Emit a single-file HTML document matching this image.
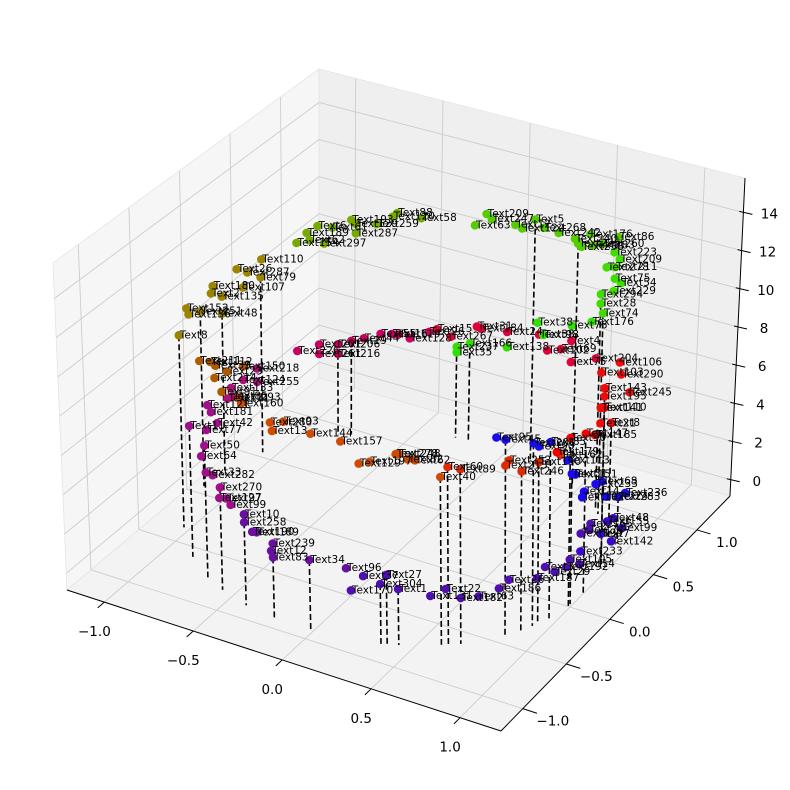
<!DOCTYPE html>
<html><head><meta charset="utf-8"><style>
html,body{margin:0;padding:0;background:#fff}
svg{display:block}
text{font-family:"DejaVu Sans","Liberation Sans",sans-serif}
</style></head><body>
<svg id="chart" width="790" height="790" viewBox="0 0 790 790" xmlns="http://www.w3.org/2000/svg">
<g id="panes"></g>
<g id="grid"></g>
<g id="axes"></g>
<g id="stems"></g>
<g id="points"></g>
<g id="labels"></g>
</svg>
<script>
const xTicks=[-1.0,-0.5,0.0,0.5,1.0];
const yTicks=[-1.0,-0.5,0.0,0.5,1.0];
const zTicks=[0,2,4,6,8,10,12,14];
const xLim=[-1.21,1.23], yLim=[-1.25,1.38], zLim=[-0.85,15.8];

const xs=[0.28,0.34,0.42,0.45,0.50,0.64,0.70,0.76,0.82,0.89,0.92,1.0,1.02,1.04,1.06,1.06,1.07,1.07,1.07,1.06,
-0.32,-0.32,-0.27,-0.24,-0.14,-0.15,-0.14,0.07,0.26,
-0.61,-0.64,-0.60,-0.54,-0.49,-0.50,-0.41,-0.44,-0.77,-0.59,-0.50,-0.57,-0.54,
-1.0,-1.03,-1.0,-1.05,-1.05,-1.06,
-1.07,-1.07,-1.07,-1.06,-1.07,-1.06,-1.03,
-0.34,-0.32,-0.14,-0.06,-0.13,0.09,0.24,0.33,0.38,0.50,0.51,0.55,0.58,0.68,
0.71,0.76,0.92,0.91,0.96,1.0,1.05,
1.06,1.07,1.06,1.04,
1.02,1.04,1.05,1.02,1.04,0.96,1.04,0.99,1.0,1.05,
0.50,0.72,0.32,0.42,0.26,0.50,0.06,-0.09,-0.25,-0.32,-0.11,
-0.89,-0.82,-0.82,-0.75,-0.75,-0.70,-0.65,-0.58,-0.53,-0.50,-0.45,-0.36,
-0.22,-0.22,-0.15,0.06,0.25,0.50,0.67,0.29,
0.78,0.75,0.76,0.94,0.94,0.82,0.94,0.96,0.94,0.97,
-0.13,-0.07,-0.04,0.10,0.14,0.22,0.28,0.38,0.50,0.53,0.56,0.66,0.75,0.91,0.64,
-0.51,-0.40,-0.53,-0.60,-0.68,-0.70,-0.77,-0.82,-0.86,-0.89,-0.85,-0.80,-0.68,
-0.99,-1.04,-1.02,-0.99,-1.07,-1.07,-1.06,-1.03,-1.04,-1.04,-1.07,-1.06,-0.95,
1.07,1.07,1.06,1.04,0.97,1.0,1.03,1.07,1.06,1.06,1.0,0.99,0.91,0.88,1.03,
0.95,0.98,1.02,1.03,1.04,1.07];
const ys=[-1.03,-1.01,-0.98,-0.97,-0.94,-0.86,-0.81,-0.76,-0.68,-0.59,-0.54,-0.38,-0.33,-0.26,-0.17,-0.13,-0.04,-0.03,0.06,0.10,
-1.02,-1.02,-1.03,-1.04,-1.06,-1.06,-1.06,-1.07,-1.04,
-0.88,-0.86,-0.89,-0.93,-0.95,-0.94,-0.99,-0.98,-0.74,-0.89,-0.94,-0.91,-0.93,
0.37,0.28,0.37,0.19,0.20,0.17,
-0.09,0.02,0.07,0.17,0.06,0.11,0.28,
-1.01,-1.02,-1.06,-1.07,-1.06,-1.07,-1.04,-1.02,-1.0,-0.95,-0.94,-0.92,-0.90,-0.82,
-0.80,-0.76,-0.54,-0.56,-0.48,-0.37,-0.23,
-0.14,0.01,0.13,-0.25,
0.31,0.27,0.21,0.31,0.23,0.51,0.55,0.53,0.53,0.21,
0.94,0.79,1.02,0.98,1.04,0.94,1.07,1.07,1.04,1.02,1.06,
0.59,0.69,0.69,0.76,0.76,0.81,0.85,0.90,0.93,0.94,0.97,1.01,
1.05,1.05,1.06,1.07,1.04,0.94,0.83,1.03,
0.74,0.77,0.75,0.55,0.55,0.69,0.54,0.56,0.54,0.56,
1.06,1.07,1.07,1.06,1.06,1.05,1.03,1.0,0.95,0.93,0.91,0.84,0.77,0.64,0.85,
0.94,0.99,0.93,0.89,0.82,0.81,0.74,0.68,0.64,0.59,0.65,0.71,0.82,
0.41,0.25,0.32,0.40,0.06,0.04,0.13,0.29,-0.26,-0.24,-0.07,0.13,-0.50,
-0.02,0.0,0.15,0.26,0.45,0.53,0.55,-0.10,-0.12,-0.17,-0.37,-0.41,-0.56,-0.60,-0.30,
0.51,0.52,0.54,0.28,0.38,-0.03];
const zs=[2.5,3.3,3.0,3.5,2.8,2.5,2.8,2.3,2.2,2.4,2.7,2.3,2.7,2.2,2.1,2.3,1.7,3.2,3.0,3.1,
4.6,4.2,3.9,4.0,3.8,3.4,3.1,3.6,3.6,
6.7,6.0,5.4,5.6,5.2,4.6,4.7,4.9,6.7,7.6,8.4,9.0,8.8,
4.5,4.2,3.8,4.1,3.6,3.6,
6.6,6.1,5.7,5.0,5.1,4.2,4.9,
10.4,10.2,9.9,10.2,9.5,10.0,9.9,8.95,9.1,9.6,9.6,9.35,9.3,8.4,
8.9,8.75,8.7,8.5,8.0,8.1,8.0,
8.5,8.1,7.5,8.2,
9.0,8.8,8.5,8.0,7.6,6.2,7.8,9.3,8.7,10.3,
6.3,7.7,6.1,6.6,6.7,7.4,6.2,6.0,5.3,5.6,6.1,
4.8,4.4,4.9,4.3,4.8,4.9,5.0,5.2,5.2,5.2,5.0,5.4,
4.8,4.5,5.1,5.4,7.3,8.2,9.3,6.8,
10.4,10.7,11.3,13.4,14.0,13.1,14.8,14.4,12.8,13.2,
11.4,12.1,11.9,12.0,11.9,12.6,12.4,12.5,12.7,12.6,12.6,13.2,13.8,15.1,13.7,
11.6,11.4,11.4,11.0,11.1,11.3,11.0,11.2,10.9,10.5,10.5,10.2,10.6,
10.1,10.1,9.7,9.2,9.9,9.6,9.1,9.0,10.1,9.7,9.1,8.2,9.9,
5.0,5.2,4.9,4.5,2.7,2.4,2.6,6.5,6.6,7.5,8.9,9.2,9.8,10.0,8.9,
1.1,1.3,0.8,1.7,0.9,2.3];
const colors=[].concat(
Array(20).fill('#5010b0'),
Array(9).fill('#6a10a0'),
Array(13).fill('#a0108a'),
Array(6).fill('#b0107a'),
Array(7).fill('#b05a00'),
Array(14).fill('#d04a00'),
Array(7).fill('#e02a00'),
Array(4).fill('#f00000'),
Array(10).fill('#f00a0a'),
Array(11).fill('#e0003a'),
Array(12).fill('#cc0060'),
Array(8).fill('#30e000'),
Array(10).fill('#40dd00'),
Array(15).fill('#55cc00'),
Array(13).fill('#77aa00'),
Array(13).fill('#9a8400'),
Array(15).fill('#1a0af0'),
Array(6).fill('#3a08d0'));
const names=['Text170','Text37','Text304','Text27','Text1','Text131','Text22','Text182','Text63','Text186','Text26','Text187','Text3','Text29','Text192','Text105','Text14','Text199','Text74','Text165',
'Text10','Text258','Text190','Text189','Text239','Text12','Text83','Text34','Text96',
'Text50','Text64','Text33','Text282','Text270','Text127','Text99','Text97','Text11','Text77','Text42','Text121','Text181',
'Text218','Text124','Text255','Text133','Text85','Text171',
'Text211','Text112','Text39','Text23','Text214','Text91','Text150',
'Text293','Text160','Text280','Text93','Text13','Text144','Text157','Text129','Text197','Text278','Text248','Text82','Text62','Text40',
'Text60','Text89','Text252','Text213','Text246','Text190','Text162',
'Text90','Text147','Text185','Text179',
'Text143','Text195','Text141','Text110','Text21','Text8','Text245','Text106','Text290','Text103',
'Text75','Text204','Text102','Text69','Text38','Text4','Text24','Text184','Text267','Text15','Text31',
'Text226','Text261','Text201','Text216','Text206','Text19','Text44','Text55','Text16','Text119','Text128','Text26',
'Text237','Text35','Text166','Text138','Text38','Text76','Text176','Text98',
'Text74','Text28','Text294','Text75','Text211','Text278','Text223','Text209','Text229','Text54',
'Text63','Text209','Text247','Text12','Text122','Text5','Text268','Text242','Text240','Text276','Text258','Text283','Text260','Text86','Text176',
'Text88','Text58','Text120','Text259','Text129','Text193','Text61','Text6','Text189','Text154','Text62','Text297','Text287',
'Text110','Text26','Text287','Text79','Text180','Text2','Text135','Text107','Text152','Text136','Text251','Text48','Text8',
'Text102','Text14','Text233','Text68','Text224','Text283','Text236','Text151','Text51','Text113','Text90','Text201','Text45','Text95','Text85',
'Text155','Text48','Text99','Text7','Text142','Text233'];
const stemIdx=[37,29,33,21,26,27,2,3,4,68,69,70,73,74,76,77,81,83,85,104,106,113,115,136,140,162,169,170,171,121,122,177,180,183,186,184];

const B={b000:[67,590],b100:[501,731],b010:[319,378],b110:[730,496],t000:[53,263],t100:[499,393],t010:[319,69],t110:[745,178]};
function lerp(a,b,t){return [a[0]+(b[0]-a[0])*t,a[1]+(b[1]-a[1])*t];}
function P(x,y,z){
 const u=(x-xLim[0])/(xLim[1]-xLim[0]), v=(y-yLim[0])/(yLim[1]-yLim[0]), w=(z-zLim[0])/(zLim[1]-zLim[0]);
 const bot=lerp(lerp(B.b000,B.b100,u),lerp(B.b010,B.b110,u),v);
 const top=lerp(lerp(B.t000,B.t100,u),lerp(B.t010,B.t110,u),v);
 return lerp(bot,top,w);
}
const NS='http://www.w3.org/2000/svg';
function mk(tag,parent,attrs){const e=document.createElementNS(NS,tag);for(const k in attrs)e.setAttribute(k,attrs[k]);parent.appendChild(e);return e;}
const pts=a=>a.map(p=>p[0].toFixed(1)+','+p[1].toFixed(1)).join(' ');
const [X0,X1]=xLim,[Y0,Y1]=yLim,[Z0,Z1]=zLim;
const gP=document.getElementById('panes'),gG=document.getElementById('grid'),gA=document.getElementById('axes'),
gS=document.getElementById('stems'),gD=document.getElementById('points'),gL=document.getElementById('labels');

let e;
e=mk('polygon',gP,{points:pts([P(X0,Y0,Z0),P(X0,Y1,Z0),P(X0,Y1,Z1),P(X0,Y0,Z1)]),fill:'#f6f6f6',stroke:'#e4e4e4','stroke-width':0.8});


e=mk('polygon',gP,{points:pts([P(X0,Y1,Z0),P(X1,Y1,Z0),P(X1,Y1,Z1),P(X0,Y1,Z1)]),fill:'#efefef',stroke:'#e4e4e4','stroke-width':0.8});


e=mk('polygon',gP,{points:pts([P(X0,Y0,Z0),P(X1,Y0,Z0),P(X1,Y1,Z0),P(X0,Y1,Z0)]),fill:'#f3f3f3',stroke:'#e4e4e4','stroke-width':0.8});



const gc='#cdcdcd';
function gl(a,b,name){const l=mk('line',gG,{x1:a[0],y1:a[1],x2:b[0],y2:b[1],stroke:gc,'stroke-width':0.9});
 
 }
xTicks.forEach(t=>{gl(P(t,Y0,Z0),P(t,Y1,Z0),'x-grid-floor');gl(P(t,Y1,Z0),P(t,Y1,Z1),'x-grid-back');});
yTicks.forEach(t=>{gl(P(X0,t,Z0),P(X1,t,Z0),'y-grid-floor');gl(P(X0,t,Z0),P(X0,t,Z1),'y-grid-left');});
zTicks.forEach(t=>{gl(P(X0,Y0,t),P(X0,Y1,t),'z-grid-left');gl(P(X0,Y1,t),P(X1,Y1,t),'z-grid-back');});

function al(a,b,name){const l=mk('line',gA,{x1:a[0],y1:a[1],x2:b[0],y2:b[1],stroke:'#000','stroke-width':1});
 
 }
al(P(X0,Y0,Z0),P(X1,Y0,Z0),'x-axis-line');
al(P(X1,Y0,Z0),P(X1,Y1,Z0),'y-axis-line');
al(P(X1,Y1,Z0),P(X1,Y1,Z1),'z-axis-line');
function tl(txt,p,name){const t=mk('text',gA,{x:p[0].toFixed(1),y:p[1].toFixed(1),'font-size':13.5,'text-anchor':'middle','dominant-baseline':'central',fill:'#000'});
 t.textContent=txt;
 
 }
const fmt=v=>(v<0?'\u2212':'')+Math.abs(v).toFixed(1);
xTicks.forEach(t=>{const a=P(t,Y0,Z0),b=P(t,Y0-0.07,Z0);al(a,[b[0],b[1]],'x-tick');tl(fmt(t),[a[0]-10,a[1]+30],'x-tick-label');});
yTicks.forEach(t=>{const a=P(X1,t,Z0),b=P(X1+0.08,t,Z0);al(a,b,'y-tick');tl(fmt(t),[a[0]+30,a[1]+13],'y-tick-label');});
zTicks.forEach(t=>{const a=P(X1,Y1,t);al([a[0]-4,a[1]-1],[a[0]+9,a[1]+2],'z-tick');tl(String(t),[a[0]+26,a[1]+2],'z-tick-label');});

stemIdx.forEach(i=>{
 const p=P(xs[i],ys[i],zs[i]), q=P(xs[i],ys[i],0);
 const s=mk('line',gS,{x1:p[0].toFixed(1),y1:p[1].toFixed(1),x2:q[0].toFixed(1),y2:q[1].toFixed(1),stroke:'#000','stroke-width':1.6,'stroke-dasharray':'6,3'});
 
 
});
for(let i=0;i<xs.length;i++){
 const p=P(xs[i],ys[i],zs[i]);
 const c=mk('circle',gD,{cx:p[0].toFixed(1),cy:p[1].toFixed(1),r:4.3,fill:colors[i]});
 
 
}
for(let i=0;i<xs.length;i++){
 const p=P(xs[i],ys[i],zs[i]);
 const t=mk('text',gL,{x:(p[0]+1).toFixed(1),y:(p[1]+3).toFixed(1),'font-size':10.5,fill:'#000'});
 t.textContent=names[i];
 
 
}
</script>
</body></html>
